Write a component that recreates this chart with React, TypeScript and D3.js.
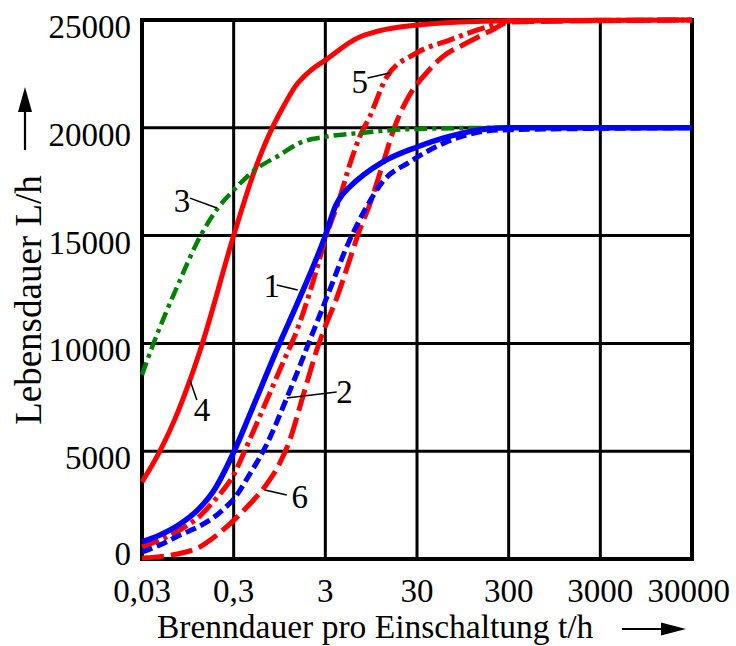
import React from "react";
import * as d3 from "d3";

const WIDTH = 736;
const HEIGHT = 646;
const FONT = "'Liberation Serif', 'Times New Roman', Times, serif";

type Pt = [number, number];

// Axis ticks
const xTickValues = [0.03, 0.3, 3, 30, 300, 3000, 30000];
const xTickLabels = ["0,03", "0,3", "3", "30", "300", "3000", "30000"];
const yTickValues = [0, 5000, 10000, 15000, 20000, 25000];
const yTickLabels = ["0", "5000", "10000", "15000", "20000", "25000"];

// Lebensdauer L/h over Brenndauer pro Einschaltung t/h
const curve1: Pt[] = [
  [0.03, 790], [0.047, 1110], [0.078, 1620], [0.128, 2370], [0.187, 3250],
  [0.3, 4950], [0.45, 6700], [0.95, 10000], [1.5, 11900], [3.0, 15000],
  [3.9, 16400], [4.6, 16900], [5.5, 17250], [12.6, 18410], [30, 19110],
  [63, 19570], [283, 20000], [30000, 20000],
];

const curve2: Pt[] = [
  [0.03, 325], [0.047, 650], [0.078, 1110], [0.128, 1530], [0.178, 1900],
  [0.24, 2365], [0.3, 2780], [0.45, 3940], [0.69, 5330], [1.14, 7470],
  [1.58, 8950], [1.83, 9650], [3.35, 12480], [5.12, 14470], [8.45, 16330],
  [12.6, 17490], [24.9, 18410], [63, 19340], [237, 19900], [30000, 20000],
];

const curve3: Pt[] = [
  [0.03, 8540], [0.0395, 9930], [0.072, 12600], [0.132, 15030], [0.202, 16280],
  [0.294, 17070], [0.51, 18040], [0.955, 18740], [1.58, 19300], [3.0, 19580],
  [7.1, 19760], [30, 19950], [300, 20000], [30000, 20000],
];

const curve4: Pt[] = [
  [0.03, 3570], [0.047, 5000], [0.0687, 6500], [0.1, 8300], [0.135, 9930],
  [0.3, 15000], [0.51, 18040], [0.8, 20040], [1.05, 21000], [1.4, 21900],
  [2.0, 22600], [3.0, 23140], [7.1, 24210], [30, 24770], [300, 24960],
  [30000, 25000],
];

const curve5: Pt[] = [
  [0.03, 560], [0.047, 880], [0.078, 1350], [0.128, 1990], [0.187, 2740],
  [0.24, 3290], [0.3, 3900], [0.378, 4820], [0.51, 6080], [0.69, 7370],
  [1.03, 9090], [1.46, 10570], [2.18, 12800], [3.1, 15030], [4.3, 16740],
  [5.52, 18270], [7.1, 19580], [9.12, 20500], [14.0, 22350], [29.6, 23470],
  [67.8, 24070], [171, 24670], [300, 24950], [30000, 25000],
];

const curve6: Pt[] = [
  [0.03, 50], [0.0534, 140], [0.128, 560], [0.178, 970], [0.294, 1760],
  [0.45, 2550], [0.69, 3480], [0.955, 4450], [1.23, 5520], [1.58, 7050],
  [2.03, 8630], [2.48, 9830], [2.95, 10710], [3.99, 12100], [5.52, 13870],
  [7.1, 15260], [9.12, 16420], [12.6, 18270], [17.1, 20040], [24.9, 21520],
  [38.1, 22550], [56.9, 23290], [104, 23930], [199, 24540], [300, 24900],
  [30000, 25000],
];

// Curve numbers with their leader lines (text position, leader start, leader end on curve)
const curveLabelTexts = ["1", "2", "3", "4", "5", "6"];
const curveLabelAt: Pt[] = [
  [0.78, 12150], [4.87, 7240], [0.082, 16090], [0.135, 6400], [7.1, 21610], [1.58, 2370],
];
const leaderFrom: Pt[] = [
  [0.885, 12710], [3.99, 7750], [0.1, 16740], [0.119, 7375], [8.67, 22310], [1.14, 2970],
];
const leaderTo: Pt[] = [
  [1.5, 12480], [1.14, 7470], [0.197, 16280], [0.1, 8300], [15.1, 22540], [0.656, 3200],
];

const RED = "#ff0000";
const BLUE = "#0000ff";
const GREEN = "#008000";

const seriesList = [
  { key: "c6", data: curve6, color: RED, dash: "22 7", width: 5 },
  { key: "c5", data: curve5, color: RED, dash: "18 5 4 5", width: 5 },
  { key: "c4", data: curve4, color: RED, dash: undefined, width: 5 },
  { key: "c3", data: curve3, color: GREEN, dash: "13 5 4 5", width: 4.5 },
  { key: "c2", data: curve2, color: BLUE, dash: "11 5", width: 5 },
  { key: "c1", data: curve1, color: BLUE, dash: undefined, width: 5.5 },
];

export default function App() {
  const x = d3.scaleLog().domain([0.03, 30000]).range([142, 692]);
  const y = d3.scaleLinear().domain([0, 25000]).range([559, 20]);

  const line = d3
    .line<Pt>()
    .x((d) => x(d[0]))
    .y((d) => y(d[1]))
    .curve(d3.curveMonotoneX);

  const [x0, x1] = x.range();
  const [y0, y1] = y.range();

  return (
    <svg
      width={WIDTH}
      height={HEIGHT}
      viewBox={`0 0 ${WIDTH} ${HEIGHT}`}
      style={{ position: "absolute", left: 0, top: 0, background: "#fff" }}
      fontFamily={FONT}
    >
      <rect x={0} y={0} width={WIDTH} height={HEIGHT} fill="#fff" />

      {/* grid */}
      <g stroke="#000" strokeWidth={3}>
        {xTickValues.map((v) => (
          <line key={`gx${v}`} x1={x(v)} x2={x(v)} y1={y1} y2={y0} />
        ))}
        {yTickValues.map((v) => (
          <line key={`gy${v}`} x1={x0} x2={x1} y1={y(v)} y2={y(v)} />
        ))}
      </g>
      <rect
        x={x0}
        y={y1}
        width={x1 - x0}
        height={y0 - y1}
        fill="none"
        stroke="#000"
        strokeWidth={4}
      />

      {/* curves */}
      <g fill="none" strokeLinejoin="round">
        {seriesList.map((s) => (
          <path
            key={s.key}
            d={line(s.data) ?? ""}
            stroke={s.color}
            strokeWidth={s.width}
            strokeDasharray={s.dash}
          />
        ))}
      </g>

      {/* curve numbers */}
      <g>
        {curveLabelTexts.map((t, i) => (
          <g key={`lab${t}`}>
            <line
              x1={x(leaderFrom[i][0])}
              y1={y(leaderFrom[i][1])}
              x2={x(leaderTo[i][0])}
              y2={y(leaderTo[i][1])}
              stroke="#000"
              strokeWidth={1.5}
            />
            <text
              x={x(curveLabelAt[i][0])}
              y={y(curveLabelAt[i][1])}
              fontSize={33}
              textAnchor="middle"
              fill="#000"
            >
              {t}
            </text>
          </g>
        ))}
      </g>

      {/* x tick labels */}
      <g fontSize={33} fill="#000">
        {xTickValues.map((v, i) => {
          const last = i === xTickValues.length - 1;
          return (
            <text
              key={`xt${v}`}
              x={last ? WIDTH - 6 : x(v)}
              y={602}
              textAnchor={last ? "end" : "middle"}
            >
              {xTickLabels[i]}
            </text>
          );
        })}
      </g>

      {/* y tick labels */}
      <g fontSize={33} fill="#000">
        {yTickValues.map((v, i) => (
          <text
            key={`yt${v}`}
            x={131}
            y={Math.min(y(v) + 18, y0 + 6)}
            textAnchor="end"
          >
            {yTickLabels[i]}
          </text>
        ))}
      </g>

      {/* x axis title with arrow */}
      <text x={157} y={638} fontSize={33.5} fill="#000">
        Brenndauer pro Einschaltung t/h
      </text>
      <line x1={622} x2={665} y1={629} y2={629} stroke="#000" strokeWidth={2.2} />
      <path d="M 686 629 L 661 622.5 L 661 635.5 Z" fill="#000" />

      {/* y axis title with arrow */}
      <text
        transform="translate(41, 300) rotate(-90)"
        fontSize={37}
        textAnchor="middle"
        fill="#000"
      >
        Lebensdauer L/h
      </text>
      <line x1={25} x2={25} y1={150} y2={108} stroke="#000" strokeWidth={2.2} />
      <path d="M 25 87 L 18 112 L 32 112 Z" fill="#000" />
    </svg>
  );
}
